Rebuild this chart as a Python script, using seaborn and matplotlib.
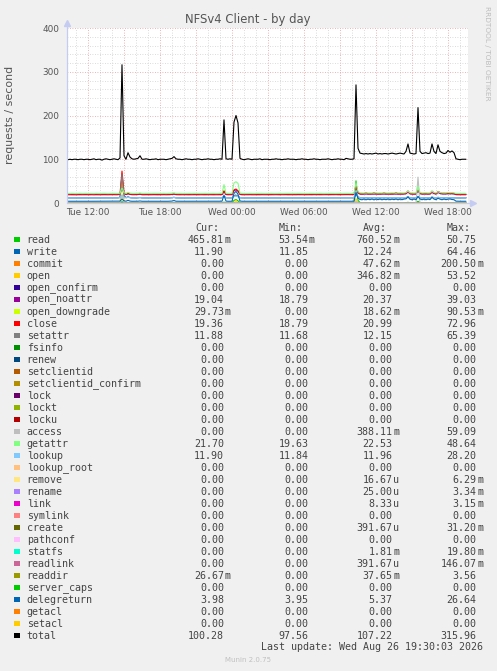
import numpy as np
import pandas as pd
import matplotlib.pyplot as plt
import seaborn as sns
from matplotlib.patches import Rectangle

# 1. Data: munin nfs4 client counters, one sample every 10 minutes, Tue 10:20 -> Wed 19:30
times = 10 + 20 / 60 + np.arange(200) / 6   # hours since Tue 00:00

total = [
    99, 100, 99, 100, 100, 99, 100, 100, 99, 100, 100, 99, 100, 101, 99, 100, 100, 98, 100, 101,
    100, 99, 100, 101, 100, 99, 103, 316, 108, 100, 115, 105, 101, 100, 101, 102, 108, 100, 100, 101,
    100, 99, 100, 100, 101, 99, 100, 100, 100, 99, 100, 101, 102, 106, 101, 100, 100, 99, 100, 101,
    100, 100, 99, 100, 100, 101, 100, 99, 100, 100, 101, 100, 100, 99, 100, 100, 101, 100, 190, 101,
    100, 101, 100, 185, 200, 183, 102, 100, 99, 100, 101, 100, 99, 100, 100, 100, 101, 99, 100, 100,
    100, 99, 100, 100, 101, 100, 100, 99, 100, 100, 101, 100, 100, 100, 99, 100, 100, 101, 100, 100,
    99, 100, 100, 101, 100, 100, 99, 100, 100, 100, 101, 100, 99, 100, 100, 101, 100, 100, 99, 102,
    101, 100, 100, 101, 270, 125, 114, 113, 112, 113, 112, 113, 112, 113, 114, 112, 113, 112, 113, 113,
    112, 113, 114, 113, 112, 113, 114, 113, 112, 118, 135, 114, 113, 112, 113, 218, 118, 113, 114, 115,
    113, 114, 135, 118, 113, 133, 118, 115, 113, 114, 120, 116, 119, 115, 101, 100, 99, 100, 100, 100,
]

getattr_ = [
    21.8, 21.6, 21.9, 21.7, 21.5, 21.8, 22.0, 21.6, 21.7, 21.9, 21.6, 21.8, 21.7, 21.5, 21.9, 21.7, 21.6, 21.8, 22.0, 21.7,
    21.6, 21.8, 21.7, 21.9, 21.6, 21.8, 22.4, 35.0, 23.5, 22.0, 24.5, 22.6, 21.8, 21.7, 21.9, 22.2, 23.0, 21.8, 21.7, 21.9,
    21.8, 21.6, 21.7, 22.0, 21.9, 21.6, 21.8, 21.7, 21.9, 21.6, 21.8, 22.0, 22.4, 23.2, 21.9, 21.7, 21.8, 21.6, 21.7, 21.9,
    21.7, 21.8, 21.6, 21.9, 21.7, 21.8, 21.6, 21.7, 21.9, 21.8, 21.6, 21.7, 21.9, 21.8, 21.6, 21.7, 21.8, 21.9, 42.0, 22.0,
    21.8, 21.7, 21.9, 46.0, 48.6, 45.0, 22.4, 21.8, 21.6, 21.7, 21.9, 21.8, 21.7, 21.6, 21.8, 21.9, 21.7, 21.8, 21.6, 21.7,
    21.9, 21.7, 21.8, 21.6, 21.7, 21.9, 21.8, 21.6, 21.7, 21.8, 21.9, 21.7, 21.6, 21.8, 21.7, 21.9, 21.8, 21.7, 21.6, 21.8,
    21.7, 21.9, 21.8, 21.6, 21.7, 21.8, 21.9, 21.7, 21.6, 21.8, 21.7, 21.9, 21.8, 21.6, 21.7, 21.8, 21.9, 21.7, 21.8, 22.0,
    21.9, 21.7, 21.8, 22.0, 46.0, 26.0, 23.2, 23.0, 22.8, 23.1, 22.9, 23.0, 22.8, 23.1, 23.2, 22.9, 23.0, 22.8, 23.1, 23.0,
    22.9, 23.1, 23.3, 23.0, 22.8, 23.1, 23.2, 23.0, 22.9, 23.8, 27.0, 23.2, 23.0, 22.9, 23.1, 38.0, 24.0, 23.0, 23.2, 23.4,
    23.0, 23.2, 27.0, 24.0, 23.0, 26.0, 24.0, 23.3, 23.0, 23.1, 24.2, 23.5, 24.0, 23.2, 21.9, 21.7, 21.6, 21.8, 21.7, 21.7,
]

close = [
    19.4, 19.3, 19.5, 19.4, 19.2, 19.5, 19.6, 19.3, 19.4, 19.5, 19.3, 19.4, 19.6, 19.2, 19.5, 19.4, 19.3, 19.5, 19.6, 19.4,
    19.3, 19.5, 19.4, 19.6, 19.3, 19.4, 20.5, 73.0, 24.0, 19.8, 22.0, 20.2, 19.5, 19.4, 19.6, 19.8, 20.6, 19.4, 19.3, 19.5,
    19.4, 19.3, 19.5, 19.6, 19.4, 19.3, 19.5, 19.4, 19.6, 19.3, 19.4, 19.5, 19.9, 20.8, 19.5, 19.4, 19.3, 19.5, 19.4, 19.6,
    19.3, 19.4, 19.5, 19.4, 19.6, 19.3, 19.4, 19.5, 19.3, 19.4, 19.6, 19.5, 19.4, 19.3, 19.5, 19.4, 19.6, 19.5, 28.0, 19.8,
    19.4, 19.6, 19.5, 30.0, 32.0, 28.0, 20.0, 19.4, 19.3, 19.5, 19.4, 19.6, 19.3, 19.4, 19.5, 19.4, 19.3, 19.6, 19.4, 19.5,
    19.4, 19.3, 19.5, 19.4, 19.6, 19.4, 19.3, 19.5, 19.4, 19.6, 19.3, 19.4, 19.5, 19.4, 19.3, 19.6, 19.4, 19.5, 19.3, 19.4,
    19.5, 19.4, 19.3, 19.6, 19.4, 19.5, 19.3, 19.4, 19.6, 19.5, 19.4, 19.3, 19.5, 19.4, 19.6, 19.3, 19.4, 19.5, 19.4, 19.8,
    19.6, 19.4, 19.5, 20.0, 40.0, 24.0, 21.0, 20.8, 21.2, 23.5, 21.0, 20.9, 21.1, 23.8, 21.0, 20.8, 21.2, 21.0, 23.6, 21.1,
    21.0, 20.9, 21.2, 21.0, 23.8, 21.1, 20.9, 21.0, 21.2, 22.5, 27.5, 22.0, 21.0, 20.9, 21.1, 30.0, 22.5, 21.0, 21.2, 21.1,
    21.0, 21.2, 27.0, 23.0, 21.1, 26.5, 24.0, 22.0, 22.5, 22.0, 22.4, 22.2, 22.5, 22.0, 19.6, 19.4, 19.3, 19.5, 19.4, 19.4,
]

open_noattr = [
    19.0, 19.1, 18.9, 19.0, 19.1, 19.0, 18.9, 19.1, 19.0, 19.0, 19.1, 18.9, 19.0, 19.1, 19.0, 18.9, 19.0, 19.1, 19.0, 19.0,
    19.0, 19.1, 19.0, 18.9, 19.0, 19.1, 20.0, 36.0, 22.0, 19.2, 21.0, 19.6, 19.1, 19.0, 19.1, 19.3, 20.0, 19.0, 18.9, 19.0,
    19.1, 19.0, 18.9, 19.0, 19.1, 19.0, 19.0, 18.9, 19.1, 19.0, 19.0, 19.1, 19.5, 20.2, 19.1, 19.0, 18.9, 19.0, 19.1, 19.0,
    19.0, 18.9, 19.1, 19.0, 19.0, 19.1, 18.9, 19.0, 19.1, 19.0, 18.9, 19.0, 19.1, 19.0, 19.0, 18.9, 19.1, 19.0, 26.0, 19.2,
    19.0, 19.1, 19.0, 28.0, 30.0, 27.0, 19.4, 19.0, 18.9, 19.0, 19.1, 19.0, 19.0, 18.9, 19.1, 19.0, 19.0, 19.1, 18.9, 19.0,
    19.1, 19.0, 19.0, 18.9, 19.0, 19.1, 19.0, 19.0, 18.9, 19.1, 19.0, 19.0, 19.1, 18.9, 19.0, 19.0, 19.1, 19.0, 18.9, 19.0,
    19.0, 19.1, 18.9, 19.0, 19.0, 19.1, 19.0, 18.9, 19.0, 19.1, 19.0, 19.0, 18.9, 19.1, 19.0, 19.0, 19.1, 18.9, 19.0, 19.2,
    19.1, 19.0, 19.0, 19.2, 39.0, 23.0, 20.4, 20.2, 20.3, 20.5, 20.2, 20.4, 20.3, 20.2, 20.5, 20.3, 20.2, 20.4, 20.3, 20.2,
    20.4, 20.3, 20.2, 20.5, 20.3, 20.2, 20.4, 20.3, 20.5, 21.0, 25.0, 20.8, 20.3, 20.2, 20.4, 27.0, 21.5, 20.3, 20.4, 20.6,
    20.3, 20.5, 24.0, 21.5, 20.3, 24.0, 21.8, 20.6, 20.4, 20.5, 21.2, 20.8, 21.0, 20.5, 19.1, 19.0, 18.9, 19.0, 19.1, 19.0,
]

write = [
    11.9, 11.9, 11.8, 11.9, 12.0, 11.9, 11.9, 11.8, 11.9, 12.0, 11.9, 11.9, 11.8, 11.9, 12.0, 11.9, 11.9, 11.8, 11.9, 11.9,
    12.0, 11.9, 11.9, 11.8, 11.9, 12.0, 12.8, 64.5, 17.0, 12.2, 13.8, 12.4, 12.0, 11.9, 11.9, 12.1, 12.6, 11.9, 11.9, 11.8,
    11.9, 12.0, 11.9, 11.9, 11.8, 11.9, 12.0, 11.9, 11.9, 11.8, 11.9, 12.0, 12.3, 12.9, 12.0, 11.9, 11.9, 11.8, 11.9, 12.0,
    11.9, 11.9, 11.8, 11.9, 12.0, 11.9, 11.9, 11.8, 11.9, 12.0, 11.9, 11.9, 11.8, 11.9, 12.0, 11.9, 11.9, 12.0, 15.0, 12.1,
    11.9, 12.0, 11.9, 16.0, 18.0, 15.0, 12.2, 11.9, 11.9, 11.8, 11.9, 12.0, 11.9, 11.9, 11.8, 11.9, 12.0, 11.9, 11.9, 11.8,
    11.9, 12.0, 11.9, 11.9, 11.8, 11.9, 12.0, 11.9, 11.9, 11.8, 11.9, 12.0, 11.9, 11.9, 11.8, 11.9, 12.0, 11.9, 11.9, 11.8,
    11.9, 11.9, 12.0, 11.9, 11.8, 11.9, 11.9, 12.0, 11.9, 11.8, 11.9, 11.9, 12.0, 11.9, 11.8, 11.9, 11.9, 12.0, 11.9, 12.1,
    11.9, 12.0, 11.9, 12.1, 22.0, 14.0, 12.1, 12.0, 12.1, 12.2, 12.0, 12.1, 12.0, 12.2, 12.1, 12.0, 12.1, 12.0, 12.2, 12.1,
    12.0, 12.1, 12.2, 12.0, 12.1, 12.0, 12.2, 12.1, 12.0, 12.4, 13.5, 12.2, 12.0, 12.1, 12.0, 15.0, 12.5, 12.1, 12.0, 12.2,
    12.1, 12.0, 13.2, 12.4, 12.0, 12.8, 12.3, 12.1, 12.0, 12.2, 12.3, 12.1, 12.2, 12.0, 11.9, 11.9, 11.8, 11.9, 11.9, 11.9,
]

setattr_ = [
    11.9, 11.8, 11.9, 11.9, 11.8, 11.9, 12.0, 11.9, 11.8, 11.9, 11.9, 11.8, 11.9, 12.0, 11.9, 11.8, 11.9, 11.9, 11.8, 11.9,
    11.9, 11.8, 11.9, 11.9, 11.8, 11.9, 12.7, 65.4, 16.5, 12.1, 13.6, 12.3, 11.9, 11.8, 11.9, 12.0, 12.5, 11.9, 11.8, 11.9,
    11.8, 11.9, 11.9, 11.8, 11.9, 12.0, 11.9, 11.8, 11.9, 11.9, 11.8, 11.9, 12.2, 12.8, 11.9, 11.9, 11.8, 11.9, 11.9, 11.8,
    11.9, 11.9, 11.8, 11.9, 11.9, 11.8, 11.9, 12.0, 11.9, 11.8, 11.9, 11.9, 11.8, 11.9, 11.9, 11.8, 11.9, 12.0, 14.5, 12.0,
    11.9, 11.9, 11.8, 15.5, 17.0, 14.5, 12.1, 11.9, 11.8, 11.9, 11.9, 11.8, 11.9, 11.9, 11.8, 11.9, 11.9, 11.8, 11.9, 11.9,
    11.8, 11.9, 11.9, 11.8, 11.9, 11.9, 11.8, 11.9, 12.0, 11.9, 11.8, 11.9, 11.9, 11.8, 11.9, 11.9, 11.8, 11.9, 11.9, 11.8,
    11.9, 11.9, 11.8, 11.9, 11.9, 11.8, 11.9, 11.9, 11.8, 11.9, 12.0, 11.9, 11.8, 11.9, 11.9, 11.8, 11.9, 11.9, 11.8, 12.0,
    11.9, 11.8, 11.9, 12.0, 21.0, 13.5, 12.0, 12.1, 12.0, 12.1, 12.0, 11.9, 12.1, 12.0, 12.1, 12.0, 11.9, 12.1, 12.0, 12.1,
    12.0, 12.1, 12.0, 11.9, 12.1, 12.0, 12.1, 12.0, 12.1, 12.3, 13.4, 12.1, 12.0, 12.1, 12.0, 14.8, 12.4, 12.0, 12.1, 12.0,
    12.1, 12.0, 13.0, 12.3, 12.0, 12.7, 12.2, 12.1, 12.0, 12.1, 12.2, 12.0, 12.1, 12.0, 11.9, 11.9, 11.8, 11.9, 11.9, 11.9,
]

lookup = [
    11.9, 12.0, 11.9, 11.9, 12.0, 11.9, 12.0, 11.9, 11.9, 12.0, 11.9, 12.0, 11.9, 11.9, 12.0, 11.9, 12.0, 11.9, 11.9, 12.0,
    11.9, 12.0, 11.9, 11.9, 12.0, 11.9, 12.4, 18.0, 13.0, 12.0, 12.8, 12.1, 11.9, 12.0, 11.9, 12.0, 12.3, 11.9, 12.0, 11.9,
    11.9, 12.0, 11.9, 12.0, 11.9, 11.9, 12.0, 11.9, 12.0, 11.9, 11.9, 12.0, 12.1, 12.5, 12.0, 11.9, 11.9, 12.0, 11.9, 12.0,
    12.0, 11.9, 11.9, 12.0, 11.9, 12.0, 11.9, 11.9, 12.0, 11.9, 12.0, 11.9, 11.9, 12.0, 11.9, 12.0, 11.9, 12.0, 14.0, 12.1,
    11.9, 12.0, 11.9, 15.0, 16.0, 14.5, 12.2, 11.9, 12.0, 11.9, 11.9, 12.0, 11.9, 12.0, 11.9, 11.9, 12.0, 11.9, 12.0, 11.9,
    11.9, 12.0, 11.9, 11.9, 12.0, 11.9, 12.0, 11.9, 11.9, 12.0, 11.9, 12.0, 11.9, 11.9, 12.0, 11.9, 12.0, 11.9, 11.9, 12.0,
    11.9, 12.0, 11.9, 12.0, 11.9, 11.9, 12.0, 11.9, 12.0, 11.9, 11.9, 12.0, 11.9, 12.0, 11.9, 11.9, 12.0, 11.9, 12.0, 12.1,
    11.9, 12.0, 11.9, 12.1, 28.2, 14.0, 12.0, 11.9, 12.0, 11.9, 12.0, 11.9, 12.0, 12.0, 11.9, 12.0, 11.9, 12.0, 12.0, 11.9,
    12.0, 11.9, 12.0, 12.0, 11.9, 12.0, 11.9, 12.0, 12.0, 12.2, 13.0, 12.1, 12.0, 11.9, 12.0, 15.0, 12.3, 12.0, 11.9, 12.0,
    12.0, 11.9, 12.8, 12.2, 12.0, 12.5, 12.1, 12.0, 11.9, 12.0, 12.1, 12.0, 12.0, 11.9, 11.9, 12.0, 11.9, 11.9, 12.0, 11.9,
]

delegreturn = [
    4.0, 3.98, 4.01, 3.99, 4.0, 3.97, 4.02, 4.0, 3.99, 4.01, 4.0, 3.98, 4.0, 4.01, 3.99, 4.0, 3.98, 4.02, 4.0, 3.99,
    4.0, 4.01, 3.98, 4.0, 3.99, 4.0, 4.3, 9.0, 5.0, 4.1, 6.0, 4.4, 4.0, 3.99, 4.0, 4.1, 4.6, 4.0, 3.98, 4.0,
    4.0, 3.99, 4.01, 4.0, 3.98, 4.0, 4.01, 3.99, 4.0, 4.0, 3.98, 4.1, 4.4, 5.6, 4.1, 4.0, 3.99, 4.0, 4.01, 4.0,
    3.99, 4.0, 4.01, 3.98, 4.0, 4.0, 3.99, 4.01, 4.0, 3.98, 4.0, 4.01, 4.0, 3.99, 4.0, 4.0, 3.98, 4.1, 18.0, 4.3,
    4.0, 4.1, 4.0, 22.0, 26.6, 20.0, 4.5, 4.0, 3.99, 4.0, 4.01, 3.98, 4.0, 4.0, 3.99, 4.01, 4.0, 3.98, 4.0, 4.0,
    3.99, 4.0, 4.01, 4.0, 3.98, 4.0, 4.0, 3.99, 4.01, 4.0, 3.98, 4.0, 4.0, 4.01, 3.99, 4.0, 4.0, 3.98, 4.01, 4.0,
    4.0, 3.99, 4.0, 4.01, 4.0, 3.98, 4.0, 4.0, 3.99, 4.01, 4.0, 4.0, 3.98, 4.0, 4.01, 3.99, 4.0, 4.0, 3.98, 4.1,
    4.0, 4.01, 3.99, 4.2, 24.0, 11.0, 8.2, 7.4, 9.0, 7.3, 8.8, 7.5, 9.1, 7.2, 8.9, 7.6, 9.0, 7.3, 8.7, 7.5,
    9.0, 7.4, 8.8, 7.6, 9.1, 7.3, 8.9, 7.5, 9.0, 9.5, 14.0, 8.6, 7.4, 9.0, 7.6, 15.0, 9.2, 7.5, 8.8, 7.4,
    8.9, 7.6, 13.0, 9.0, 7.5, 11.0, 8.8, 7.4, 9.0, 7.6, 8.7, 9.2, 8.0, 7.5, 4.2, 4.0, 3.98, 4.0, 4.01, 3.98,
]

read = [
    0.5, 0.4, 0.6, 0.5, 0.4, 0.7, 0.5, 0.5, 0.6, 0.4, 0.5, 0.6, 0.5, 0.4, 0.5, 0.6, 0.5, 0.4, 0.6, 0.5,
    0.5, 0.6, 0.4, 0.5, 0.5, 0.6, 0.9, 3.0, 1.2, 0.6, 0.8, 0.5, 0.4, 0.6, 0.5, 0.5, 0.7, 0.4, 0.5, 0.6,
    0.5, 0.4, 0.6, 0.5, 0.5, 0.4, 0.6, 0.5, 0.4, 0.5, 0.6, 0.5, 0.6, 0.9, 0.5, 0.4, 0.5, 0.6, 0.5, 0.4,
    0.6, 0.5, 0.4, 0.5, 0.6, 0.5, 0.4, 0.5, 0.6, 0.5, 0.5, 0.4, 0.6, 0.5, 0.4, 0.5, 0.6, 0.5, 2.0, 0.7,
    0.5, 0.6, 0.5, 6.0, 8.0, 5.0, 0.8, 0.5, 0.4, 0.6, 0.5, 0.5, 0.4, 0.6, 0.5, 0.4, 0.5, 0.6, 0.5, 0.4,
    0.5, 0.6, 0.4, 0.5, 0.5, 0.6, 0.4, 0.5, 0.6, 0.5, 0.4, 0.5, 0.5, 0.6, 0.4, 0.5, 0.6, 0.5, 0.4, 0.5,
    0.6, 0.5, 0.4, 0.5, 0.6, 0.5, 0.5, 0.4, 0.6, 0.5, 0.4, 0.5, 0.6, 0.5, 0.5, 0.4, 0.6, 0.5, 0.4, 0.7,
    0.5, 0.6, 0.5, 0.8, 50.75, 6.0, 1.0, 0.6, 0.5, 0.7, 0.6, 0.5, 0.7, 0.6, 0.5, 0.6, 0.7, 0.5, 0.6, 0.5,
    0.6, 0.7, 0.5, 0.6, 0.5, 0.7, 0.6, 0.5, 0.6, 0.8, 1.5, 0.6, 0.5, 0.7, 0.6, 4.0, 0.9, 0.6, 0.5, 0.7,
    0.6, 0.5, 1.2, 0.7, 0.6, 1.0, 0.7, 0.6, 0.5, 0.6, 0.7, 0.6, 0.6, 0.5, 0.5, 0.4, 0.5, 0.6, 0.5, 0.47,
]

open_ = [
    0, 0, 0, 0, 0, 0, 0, 0, 0, 0, 0, 0, 0, 0, 0, 0, 0, 0, 0, 0,
    0, 0, 0, 0, 0, 0, 0, 53.52, 2.0, 0, 0, 0, 0, 0, 0, 0, 0, 0, 0, 0,
    0, 0, 0, 0, 0, 0, 0, 0, 0, 0, 0, 0, 0, 0, 0, 0, 0, 0, 0, 0,
    0, 0, 0, 0, 0, 0, 0, 0, 0, 0, 0, 0, 0, 0, 0, 0, 0, 0, 0, 0,
    0, 0, 0, 0, 6.0, 0, 0, 0, 0, 0, 0, 0, 0, 0, 0, 0, 0, 0, 0, 0,
    0, 0, 0, 0, 0, 0, 0, 0, 0, 0, 0, 0, 0, 0, 0, 0, 0, 0, 0, 0,
    0, 0, 0, 0, 0, 0, 0, 0, 0, 0, 0, 0, 0, 0, 0, 0, 0, 0, 0, 0,
    0, 0, 0, 0, 10.0, 0, 0, 0, 0, 0, 0, 0, 0, 0, 0, 0, 0, 0, 0, 0,
    0, 0, 0, 0, 0, 0, 0, 0, 0, 0, 0, 0, 0, 0, 0, 0, 0, 0, 0, 0,
    0, 0, 0, 0, 0, 0, 0, 0, 0, 0, 0, 0, 0, 0, 0, 0, 0, 0, 0, 0,
]

access = [
    0, 0, 0, 0, 0, 0, 0, 0, 0, 0, 0, 0, 0, 0, 0, 0, 0, 0, 0, 0,
    0, 0, 0, 0, 0, 0, 0, 18.0, 0, 0, 0, 0, 0, 0, 0, 0, 0, 0, 0, 0,
    0, 0, 0, 0, 0, 0, 0, 0, 0, 0, 0, 0, 0, 0, 0, 0, 0, 0, 0, 0,
    0, 0, 0, 0, 0, 0, 0, 0, 0, 0, 0, 0, 0, 0, 0, 0, 0, 0, 0, 0,
    0, 0, 0, 0, 0, 0, 0, 0, 0, 0, 0, 0, 0, 0, 0, 0, 0, 0, 0, 0,
    0, 0, 0, 0, 0, 0, 0, 0, 0, 0, 0, 0, 0, 0, 0, 0, 0, 0, 0, 0,
    0, 0, 0, 0, 0, 0, 0, 0, 0, 0, 0, 0, 0, 0, 0, 0, 0, 0, 0, 0,
    0, 0, 0, 0, 4.0, 0, 0, 0, 0, 0, 0, 0, 0, 0, 0, 0, 0, 0, 0, 0,
    0, 0, 0, 0, 0, 0, 0, 0, 0, 0, 0, 0, 0, 0, 0, 59.09, 0, 0, 0, 0,
    0, 0, 0, 0, 0, 0, 0, 0, 0, 0, 0, 0, 0, 0, 0, 0, 0, 0, 0, 0,
]

# counters that stay at 0.00 for the whole day (cur/min/avg/max all zero)
always_zero = ['open_confirm', 'fsinfo', 'renew', 'setclientid', 'setclientid_confirm',
               'lock', 'lockt', 'locku', 'lookup_root', 'symlink', 'pathconf',
               'server_caps', 'getacl', 'setacl']

# legend table
names = ['read', 'write', 'commit', 'open', 'open_confirm', 'open_noattr', 'open_downgrade',
         'close', 'setattr', 'fsinfo', 'renew', 'setclientid', 'setclientid_confirm', 'lock',
         'lockt', 'locku', 'access', 'getattr', 'lookup', 'lookup_root', 'remove', 'rename',
         'link', 'symlink', 'create', 'pathconf', 'statfs', 'readlink', 'readdir',
         'server_caps', 'delegreturn', 'getacl', 'setacl', 'total']
colors = ['#00CC00', '#0066B3', '#FF8000', '#FFCC00', '#330099', '#990099', '#CCFF00',
          '#FF0000', '#808080', '#008F00', '#00487D', '#B35A00', '#B38F00', '#6B006B',
          '#8FB300', '#B30000', '#BEBEBE', '#80FF80', '#80C9FF', '#FFC080', '#FFE680',
          '#AA80FF', '#EE00CC', '#FF8080', '#666600', '#FFBFFF', '#00FFCC', '#CC6699',
          '#999900', '#00CC00', '#0066B3', '#FF8000', '#FFCC00', '#000000']
cur = ['465.81m', '11.90', '0.00', '0.00', '0.00', '19.04', '29.73m', '19.36', '11.88', '0.00',
       '0.00', '0.00', '0.00', '0.00', '0.00', '0.00', '0.00', '21.70', '11.90', '0.00', '0.00',
       '0.00', '0.00', '0.00', '0.00', '0.00', '0.00', '0.00', '26.67m', '0.00', '3.98', '0.00',
       '0.00', '100.28']
mins = ['53.54m', '11.85', '0.00', '0.00', '0.00', '18.79', '0.00', '18.79', '11.68', '0.00',
        '0.00', '0.00', '0.00', '0.00', '0.00', '0.00', '0.00', '19.63', '11.84', '0.00', '0.00',
        '0.00', '0.00', '0.00', '0.00', '0.00', '0.00', '0.00', '0.00', '0.00', '3.95', '0.00',
        '0.00', '97.56']
avgs = ['760.52m', '12.24', '47.62m', '346.82m', '0.00', '20.37', '18.62m', '20.99', '12.15',
        '0.00', '0.00', '0.00', '0.00', '0.00', '0.00', '0.00', '388.11m', '22.53', '11.96', '0.00',
        '16.67u', '25.00u', '8.33u', '0.00', '391.67u', '0.00', '1.81m', '391.67u', '37.65m',
        '0.00', '5.37', '0.00', '0.00', '107.22']
maxs = ['50.75', '64.46', '200.50m', '53.52', '0.00', '39.03', '90.53m', '72.96', '65.39', '0.00',
        '0.00', '0.00', '0.00', '0.00', '0.00', '0.00', '59.09', '48.64', '28.20', '0.00', '6.29m',
        '3.34m', '3.15m', '0.00', '31.20m', '0.00', '19.80m', '146.07m', '3.56', '0.00', '26.64',
        '0.00', '0.00', '315.96']

# 2. Long table for seaborn (sub-pixel counters like commit/readdir are not drawn)
series = {'read': read, 'write': write, 'open': open_, 'open_noattr': open_noattr,
          'close': close, 'setattr': setattr_, 'access': access, 'getattr': getattr_,
          'lookup': lookup, 'delegreturn': delegreturn, 'total': total}
for name in always_zero:
    series[name] = np.zeros(len(times))
frames = [pd.DataFrame({'time': times, 'series': n, 'rate': v}) for n, v in series.items()]
df = pd.concat(frames, ignore_index=True)
order = [n for n in names if n in series]   # munin draw order, total on top
palette = dict(zip(names, colors))

# 3. Figure in munin/rrdtool look
sns.set_style('white')
plt.rcParams['font.family'] = ['DejaVu Sans']
W, H = 497, 671
text_grey = '#555555'
axis_blue = '#C4CCF2'


def fx(px):
    return px / W


def fy(py):
    return 1 - py / H


fig = plt.figure(figsize=(W / 100, H / 100), dpi=100, facecolor='#F0F0F0')
ax = fig.add_axes([fx(67), fy(203), 401 / W, 175 / H])
ax.set_facecolor('white')

sns.lineplot(data=df, x='time', y='rate', hue='series', hue_order=order, palette=palette,
             estimator=None, legend=False, linewidth=0.8, ax=ax)

# grid: grey every hour / 20 req, red every 3 hours / 100 req
major_x = list(range(12, 43, 3))
xlabels = {12: 'Tue 12:00', 18: 'Tue 18:00', 24: 'Wed 00:00', 30: 'Wed 06:00',
           36: 'Wed 12:00', 42: 'Wed 18:00'}
ax.set_xticks(major_x)
ax.set_xticklabels([xlabels.get(h, '') for h in major_x])
ax.set_xticks(range(11, 44), minor=True)
ax.set_yticks(range(0, 401, 100))
ax.set_yticks(range(0, 401, 20), minor=True)
ax.grid(which='minor', color='#CFCFCF', linestyle=(0, (1, 2)), linewidth=0.6)
ax.grid(which='major', color='#E89A9A', linestyle=(0, (1, 2)), linewidth=0.6)
ax.set_axisbelow(True)
ax.tick_params(which='both', length=2, width=0.6, color='#AAAAAA',
               labelsize=6.4, labelcolor=text_grey)
ax.tick_params(axis='y', pad=3.6)
ax.tick_params(axis='x', pad=1.7)
ax.set_xlabel('')
ax.set_ylabel('')
for s in ax.spines.values():
    s.set_visible(False)

# axes with arrow heads
ax.plot([0, 0], [0, 1.03], transform=ax.transAxes, color=axis_blue, lw=0.9, clip_on=False, zorder=5)
ax.plot([0, 1.012], [0, 0], transform=ax.transAxes, color=axis_blue, lw=0.9, clip_on=False, zorder=5)
ax.plot([0], [1.03], marker='^', ms=4, color=axis_blue, transform=ax.transAxes, clip_on=False)
ax.plot([1.012], [0], marker='>', ms=4, color=axis_blue, transform=ax.transAxes, clip_on=False)

ax.set_xlim(10.25, 10.25 + 401 / 12)
ax.set_ylim(0, 400)

fig.text(fx(248), fy(19), 'NFSv4 Client - by day', ha='center', va='center',
         fontsize=8.4, color=text_grey)
fig.text(fx(10), fy(115), 'requests / second', rotation=90, ha='center', va='center',
         fontsize=7.9, color=text_grey)
fig.text(fx(487), fy(53), 'RRDTOOL / TOBI OETIKER', rotation=270, ha='center', va='center',
         fontsize=5.3, color='#BDBDBD')

# 4. Legend table
mono = dict(family='DejaVu Sans Mono', fontsize=7.2, color='#444444')
col_right = [224, 308.3, 392.7, 476.7]
for x0, head in zip([195, 279, 363, 447], ['Cur:', 'Min:', 'Avg:', 'Max:']):
    fig.text(fx(x0), fy(228.3), head, ha='left', va='center', **mono)

for k, name in enumerate(names):
    y = fy(239.7 + 12 * k)
    fig.add_artist(Rectangle((fx(14), y - 2.75 / H), 5.5 / W, 5.5 / H,
                             transform=fig.transFigure, facecolor=colors[k], edgecolor='none'))
    fig.text(fx(26.7), y, name, ha='left', va='center', **mono)
    for xr, column in zip(col_right, [cur, mins, avgs, maxs]):
        v = column[k]
        num, suffix = (v[:-1], v[-1]) if v[-1] in 'mu' else (v, '')
        fig.text(fx(xr), y, num, ha='right', va='center', **mono)
        if suffix:
            fig.text(fx(xr + 0.5), y, suffix, ha='left', va='center', **mono)

fig.text(fx(482.7), fy(647.3), 'Last update: Wed Aug 26 19:30:03 2026', ha='right', va='center', **mono)
fig.text(fx(248), fy(660), 'Munin 2.0.75', ha='center', va='center', fontsize=5, color='#C0C0C0')

fig.savefig('out.png', dpi=100, facecolor=fig.get_facecolor())
